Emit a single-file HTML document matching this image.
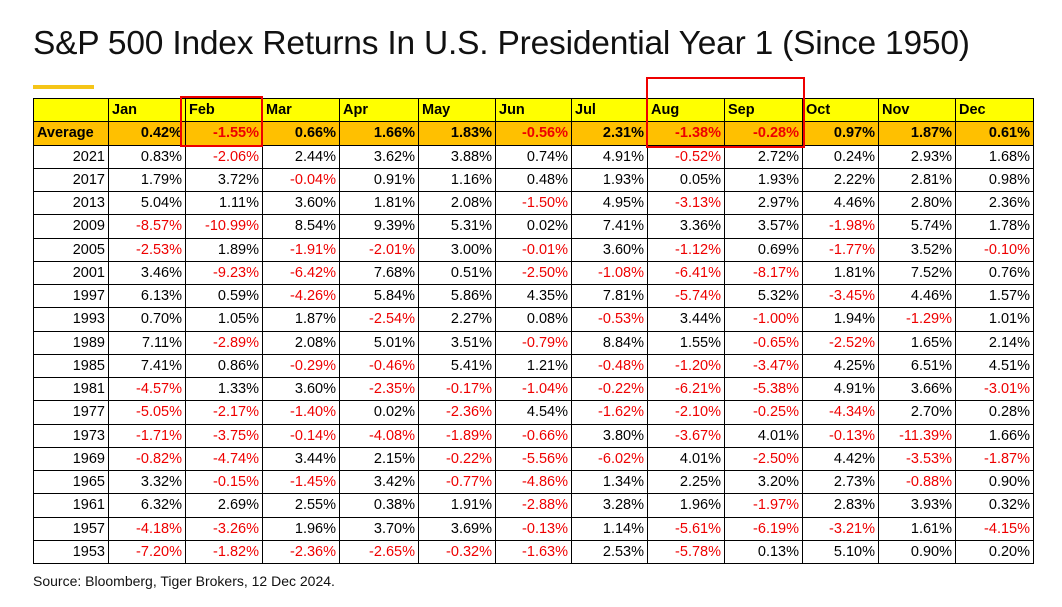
<!DOCTYPE html>
<html><head><meta charset="utf-8"><style>
body{margin:0;width:1062px;height:607px;background:#fff;position:relative;overflow:hidden;font-family:"Liberation Sans",sans-serif}
#title{position:absolute;left:33px;top:25px;font-size:33.5px;color:#111;white-space:nowrap;letter-spacing:-0.2px}
#uline{position:absolute;left:33px;top:85px;width:61px;height:4px;background:#f5c518}
#tbl{position:absolute;left:33px;top:98px;border-collapse:collapse;font-size:14.5px;table-layout:fixed}
#tbl td{border:1px solid #000;padding:0 3px;height:22.25px;text-align:right;white-space:nowrap;line-height:20px}
#tbl tr.h td{background:#ffff00;text-align:left;font-weight:bold}
#tbl tr.a td{background:#ffc000;font-weight:bold}
#tbl tr.a td:first-child{text-align:left}
.neg{color:#e00}
.box{position:absolute;border:2px solid #e00}
#src{position:absolute;left:33px;top:573px;font-size:14px;color:#111}
</style></head><body>
<div id="title">S&amp;P 500 Index Returns In U.S. Presidential Year 1 (Since 1950)</div>
<div id="uline"></div>
<table id="tbl"></table>
<div class="box" style="left:180px;top:96px;width:79px;height:47px"></div>
<div class="box" style="left:646px;top:77px;width:155px;height:67px"></div>
<div id="src">Source: Bloomberg, Tiger Brokers, 12 Dec 2024.</div>
<script>
const months=["Jan","Feb","Mar","Apr","May","Jun","Jul","Aug","Sep","Oct","Nov","Dec"];
const colWidths=[75,77,77,77,79,77,76,76,77,78,76,77,78];
const average=[0.42,-1.55,0.66,1.66,1.83,-0.56,2.31,-1.38,-0.28,0.97,1.87,0.61];
const years=[2021,2017,2013,2009,2005,2001,1997,1993,1989,1985,1981,1977,1973,1969,1965,1961,1957,1953];
const returns=[
[0.83,-2.06,2.44,3.62,3.88,0.74,4.91,-0.52,2.72,0.24,2.93,1.68],
[1.79,3.72,-0.04,0.91,1.16,0.48,1.93,0.05,1.93,2.22,2.81,0.98],
[5.04,1.11,3.60,1.81,2.08,-1.50,4.95,-3.13,2.97,4.46,2.80,2.36],
[-8.57,-10.99,8.54,9.39,5.31,0.02,7.41,3.36,3.57,-1.98,5.74,1.78],
[-2.53,1.89,-1.91,-2.01,3.00,-0.01,3.60,-1.12,0.69,-1.77,3.52,-0.10],
[3.46,-9.23,-6.42,7.68,0.51,-2.50,-1.08,-6.41,-8.17,1.81,7.52,0.76],
[6.13,0.59,-4.26,5.84,5.86,4.35,7.81,-5.74,5.32,-3.45,4.46,1.57],
[0.70,1.05,1.87,-2.54,2.27,0.08,-0.53,3.44,-1.00,1.94,-1.29,1.01],
[7.11,-2.89,2.08,5.01,3.51,-0.79,8.84,1.55,-0.65,-2.52,1.65,2.14],
[7.41,0.86,-0.29,-0.46,5.41,1.21,-0.48,-1.20,-3.47,4.25,6.51,4.51],
[-4.57,1.33,3.60,-2.35,-0.17,-1.04,-0.22,-6.21,-5.38,4.91,3.66,-3.01],
[-5.05,-2.17,-1.40,0.02,-2.36,4.54,-1.62,-2.10,-0.25,-4.34,2.70,0.28],
[-1.71,-3.75,-0.14,-4.08,-1.89,-0.66,3.80,-3.67,4.01,-0.13,-11.39,1.66],
[-0.82,-4.74,3.44,2.15,-0.22,-5.56,-6.02,4.01,-2.50,4.42,-3.53,-1.87],
[3.32,-0.15,-1.45,3.42,-0.77,-4.86,1.34,2.25,3.20,2.73,-0.88,0.90],
[6.32,2.69,2.55,0.38,1.91,-2.88,3.28,1.96,-1.97,2.83,3.93,0.32],
[-4.18,-3.26,1.96,3.70,3.69,-0.13,1.14,-5.61,-6.19,-3.21,1.61,-4.15],
[-7.20,-1.82,-2.36,-2.65,-0.32,-1.63,2.53,-5.78,0.13,5.10,0.90,0.20]];
const tbl=document.getElementById('tbl');
const cg=document.createElement('colgroup');
colWidths.forEach(w=>{const c=document.createElement('col');c.style.width=w+'px';cg.appendChild(c);});
tbl.appendChild(cg);
function cell(tr,txt,cls,name){const td=document.createElement('td');td.textContent=txt;if(cls)td.className=cls;


tr.appendChild(td);}
let tr=document.createElement('tr');tr.className='h';


cell(tr,'','', 'header-corner');
months.forEach(m=>cell(tr,m,'','header-'+m.toLowerCase()));
tbl.appendChild(tr);
tr=document.createElement('tr');tr.className='a';


cell(tr,'Average','','average-label');
average.forEach((v,i)=>cell(tr,v.toFixed(2)+'%',v<0?'neg':'','average-'+months[i].toLowerCase()));
tbl.appendChild(tr);
years.forEach((y,r)=>{const t=document.createElement('tr');


cell(t,String(y),'','year-'+y);
returns[r].forEach((v,i)=>cell(t,v.toFixed(2)+'%',v<0?'neg':'','cell-'+y+'-'+months[i].toLowerCase()));
tbl.appendChild(t);});
</script>
</body></html>
